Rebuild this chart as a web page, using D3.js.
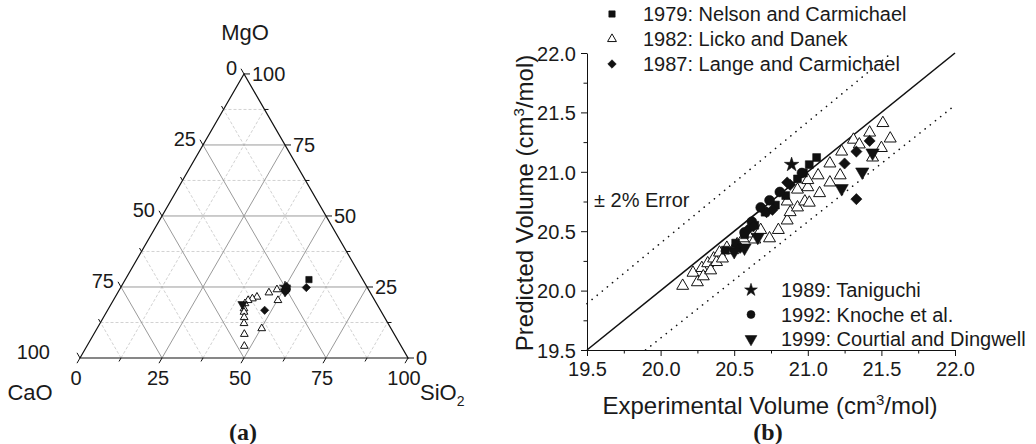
<!DOCTYPE html>
<html><head><meta charset="utf-8">
<script src="https://cdn.jsdelivr.net/npm/d3@7"></script>
<style>
body{margin:0;background:#fff}
svg{display:block}
text{font-family:"Liberation Sans",Arial,sans-serif;fill:#1a1a1a}
</style>
</head><body>
<svg id="c" width="1036" height="444"></svg>
<script>
// ---------------- DATA ----------------
// Ternary (a): compositions [CaO, MgO, SiO2] in mol %
const ternMajor = [0, 25, 50, 75, 100];
const ternMinor = [12.5, 37.5, 62.5, 87.5];
const ternNelson = [[16.4, 27.6, 56.0]];
const ternLicko = [
  [30.9, 23.0, 46.1], [27.9, 24.1, 48.0], [29.5, 20.3, 50.2], [39.4, 10.4, 50.2],
  [35.3, 21.5, 43.2], [37.0, 20.9, 42.1], [38.6, 20.3, 41.1], [40.1, 19.2, 40.7],
  [41.3, 17.4, 41.3], [41.9, 16.2, 41.9], [42.8, 14.3, 42.9], [43.9, 12.2, 43.9],
  [45.7, 8.4, 45.9], [47.8, 4.2, 48.0]
];
const ternLange = [[18.6, 24.8, 56.6], [25.2, 24.1, 50.7], [35.3, 16.8, 47.9], [24.4, 25.2, 50.4], [25.6, 23.4, 51.0]];
const ternTaniguchi = [[25.0, 25.0, 50.0]];
const ternKnoche = [[25.0, 24.5, 50.5], [25.5, 23.8, 50.7], [24.8, 24.3, 50.9]];
const ternCourtial = [[41.0, 18.9, 40.1], [25.8, 23.4, 50.8]];

// Scatter (b): [experimental, predicted] volume (cm3/mol)
const xTicks = [19.5, 20.0, 20.5, 21.0, 21.5, 22.0];
const yTicks = [19.5, 20.0, 20.5, 21.0, 21.5, 22.0];
const minorTicks = [19.75, 20.25, 20.75, 21.25, 21.75];
const errorPct = [-2, 2];
const nelson = [
  [21.06, 21.12], [21.01, 21.06], [20.97, 20.99], [20.93, 20.94], [20.85, 20.80],
  [20.78, 20.72], [20.71, 20.66], [20.64, 20.55], [20.57, 20.47], [20.51, 20.40], [20.44, 20.34]
];
const licko = [
  [20.15, 20.04], [20.22, 20.15], [20.25, 20.07], [20.28, 20.19], [20.29, 20.12],
  [20.32, 20.23], [20.34, 20.17], [20.36, 20.27], [20.38, 20.24], [20.40, 20.32],
  [20.42, 20.27], [20.45, 20.36], [20.49, 20.34], [20.52, 20.39], [20.56, 20.44],
  [20.59, 20.48], [20.64, 20.43], [20.68, 20.51], [20.74, 20.44], [20.80, 20.51],
  [20.86, 20.59], [20.88, 20.66], [20.93, 20.70], [20.98, 20.75], [21.01, 20.74],
  [20.86, 20.75], [20.93, 20.85], [21.00, 20.87], [21.00, 20.93], [21.08, 20.82],
  [21.07, 20.97], [21.15, 20.91], [21.15, 21.07], [21.22, 20.97], [21.23, 21.17],
  [21.31, 21.27], [21.35, 21.23], [21.42, 21.33], [21.51, 21.41], [21.56, 21.28],
  [21.50, 21.20], [21.44, 21.12]
];
const lange = [
  [21.42, 21.26], [21.33, 21.17], [21.25, 21.07], [21.33, 20.77], [20.88, 20.89],
  [20.86, 20.91], [20.72, 20.66], [20.76, 20.68], [20.59, 20.51], [20.63, 20.54], [20.54, 20.36]
];
const taniguchi = [[20.89, 21.06]];
const knoche = [[20.96, 20.99], [20.81, 20.83], [20.68, 20.70], [20.74, 20.76], [20.57, 20.49], [20.62, 20.58]];
const courtial = [[21.44, 21.16], [21.37, 21.00], [21.23, 20.86], [20.66, 20.45], [20.57, 20.36], [20.50, 20.33]];

const legendTop = ["1979: Nelson and Carmichael", "1982: Licko and Danek", "1987: Lange and Carmichael"];
const legendBottom = ["1989: Taniguchi", "1992: Knoche et al.", "1999: Courtial and Dingwell"];

// ---------------- DRAW ----------------
const svg = d3.select("#c");

const sym = (type, size) => d3.symbol().type(type).size(size)();
const markers = {
  square: s => ({ d: sym(d3.symbolSquare, s), rot: 0, fill: "#111" }),
  triangle: s => ({ d: sym(d3.symbolTriangle, s), rot: 0, fill: "#fff" }),
  diamond: s => ({ d: sym(d3.symbolSquare, s), rot: 45, fill: "#111" }),
  star: s => ({ d: sym(d3.symbolStar, s), rot: 0, fill: "#111" }),
  circle: s => ({ d: sym(d3.symbolCircle, s), rot: 0, fill: "#111" }),
  down: s => ({ d: sym(d3.symbolTriangle, s), rot: 180, fill: "#111" })
};
function drawMarks(g, pts, kind, size, px, py) {
  const m = markers[kind](size);
  g.selectAll(null).data(pts).enter().append("path")
    .attr("d", m.d)
    .attr("transform", d => `translate(${px(d)},${py(d)}) rotate(${m.rot})`)
    .attr("fill", m.fill)
    .attr("stroke", "#111")
    .attr("stroke-width", kind === "triangle" ? 1 : 0.6);
}

// ===== Ternary (a) =====
const T0 = { x: 80, y: 358 };     // CaO vertex (bottom-left)
const side = 328;
const tS = d3.scaleLinear().domain([0, 100]).range([0, side]);
const tH = d3.scaleLinear().domain([0, 100]).range([0, side * Math.sqrt(3) / 2]);
const tp = (c, m, s) => [T0.x + tS(s) + tS(m) / 2, T0.y - tH(m)];

const ga = svg.append("g");
function gridLines(vals, cls) {
  vals.forEach(v => {
    if (v === 0 || v === 100) return;
    const segs = [
      [tp(100 - v, 0, v), tp(0, 100 - v, v)],   // const SiO2
      [tp(v, 0, 100 - v), tp(v, 100 - v, 0)],   // const CaO
      [tp(100 - v, v, 0), tp(0, v, 100 - v)]    // const MgO
    ];
    segs.forEach(sg => {
      ga.append("line").attr("x1", sg[0][0]).attr("y1", sg[0][1]).attr("x2", sg[1][0]).attr("y2", sg[1][1])
        .attr("stroke", cls === "major" ? "#9a9a9a" : "#d2d2d2")
        .attr("stroke-width", 1)
        .attr("stroke-dasharray", cls === "major" ? null : "3,2");
    });
  });
}
gridLines(ternMinor, "minor");
gridLines(ternMajor, "major");

const tri = [tp(100, 0, 0), tp(0, 100, 0), tp(0, 0, 100)];
ga.append("path").attr("d", "M" + tri.map(p => p.join(",")).join("L") + "Z")
  .attr("fill", "none").attr("stroke", "#111").attr("stroke-width", 1.2);

const c30 = Math.cos(Math.PI / 3), s60 = Math.sin(Math.PI / 3);
function tick(p, dir, len) {
  ga.append("line").attr("x1", p[0]).attr("y1", p[1])
    .attr("x2", p[0] + dir[0] * len).attr("y2", p[1] + dir[1] * len)
    .attr("stroke", "#111").attr("stroke-width", 1);
}
const dirCaO = [-c30, -s60], dirMgO = [1, 0], dirSiO2 = [-c30, s60];
ternMinor.forEach(v => {
  tick(tp(v, 100 - v, 0), dirCaO, 4);
  tick(tp(0, v, 100 - v), dirMgO, 4);
  tick(tp(100 - v, 0, v), dirSiO2, 4);
});
ternMajor.forEach(v => {
  const pc = tp(v, 100 - v, 0), pm = tp(0, v, 100 - v), ps = tp(100 - v, 0, v);
  tick(pc, dirCaO, 6); tick(pm, dirMgO, 6); tick(ps, dirSiO2, 6);
  ga.append("text").attr("x", pc[0] - (v === 100 ? 30 : 7)).attr("y", pc[1] + 1).attr("text-anchor", "end")
    .attr("font-size", 20).text(v);
  ga.append("text").attr("x", pm[0] + 8).attr("y", pm[1] + 7).attr("text-anchor", "start")
    .attr("font-size", 20).text(v);
  ga.append("text").attr("x", ps[0] - 4).attr("y", ps[1] + 27).attr("text-anchor", "middle")
    .attr("font-size", 20).text(v);
});
ga.append("text").attr("x", 245).attr("y", 40).attr("text-anchor", "middle").attr("font-size", 22).text("MgO");
ga.append("text").attr("x", 30).attr("y", 400).attr("text-anchor", "middle").attr("font-size", 22).text("CaO");
const siT = ga.append("text").attr("x", 420).attr("y", 400).attr("font-size", 22);
siT.append("tspan").text("SiO");
siT.append("tspan").attr("dy", 6).attr("font-size", 14).text("2");
svg.append("text").attr("x", 243).attr("y", 440).attr("text-anchor", "middle")
  .style("font-family", "'Liberation Serif','Times New Roman',serif").attr("font-weight", "bold")
  .attr("font-size", 24).text("(a)");

const tpx = d => tp(d[0], d[1], d[2])[0], tpy = d => tp(d[0], d[1], d[2])[1];
drawMarks(ga, ternLicko, "triangle", 26, tpx, tpy);
drawMarks(ga, ternNelson, "square", 40, tpx, tpy);
drawMarks(ga, ternKnoche, "circle", 44, tpx, tpy);
drawMarks(ga, ternTaniguchi, "star", 40, tpx, tpy);
drawMarks(ga, ternLange, "diamond", 34, tpx, tpy);
drawMarks(ga, ternCourtial, "down", 38, tpx, tpy);

// ===== Scatter (b) =====
const xS = d3.scaleLinear().domain([19.5, 22]).range([587, 955]);
const yS = d3.scaleLinear().domain([19.5, 22]).range([350, 53]);
const gb = svg.append("g");

const fmt = d3.format(".1f");
const xAx = gb.append("g").attr("transform", "translate(0,350)")
  .call(d3.axisBottom(xS).tickValues(xTicks).tickFormat(fmt).tickSize(6).tickSizeOuter(0).tickPadding(6));
const xAxm = gb.append("g").attr("transform", "translate(0,350)")
  .call(d3.axisBottom(xS).tickValues(minorTicks).tickFormat("").tickSize(3.5));
xAxm.select(".domain").remove();
const yAx = gb.append("g").attr("transform", "translate(587,0)")
  .call(d3.axisLeft(yS).tickValues(yTicks).tickFormat(fmt).tickSize(6).tickSizeOuter(0).tickPadding(5));
const yAxm = gb.append("g").attr("transform", "translate(587,0)")
  .call(d3.axisLeft(yS).tickValues(minorTicks).tickFormat("").tickSize(3.5));
yAxm.select(".domain").remove();
gb.selectAll(".tick text").attr("font-size", 20).attr("font-family", null).attr("fill", "#1a1a1a");
gb.selectAll(".domain,.tick line").attr("stroke", "#111");
yAx.selectAll(".tick text").attr("dy", "0.36em");

const [xmin, xmax] = xS.domain();
const line = d3.line().x(d => xS(d[0])).y(d => yS(d[1]));
gb.append("path").attr("d", line([[xmin, xmin], [xmax, xmax]]))
  .attr("stroke", "#111").attr("stroke-width", 1.6).attr("fill", "none");
errorPct.forEach(p => {
  const f = 1 + p / 100;
  const x0 = Math.max(xmin, xmin / f), x1 = Math.min(xmax, xmax / f);
  gb.append("path").attr("d", line([[x0, x0 * f], [x1, x1 * f]]))
    .attr("stroke", "#111").attr("stroke-width", 1.6).attr("fill", "none")
    .attr("stroke-dasharray", "0.1,6.5").attr("stroke-linecap", "round");
});
gb.append("text").attr("x", 594).attr("y", 207).attr("font-size", 20).text("\u00b1 2% Error");

const sx = d => xS(d[0]), sy = d => yS(d[1]);
drawMarks(gb, licko, "triangle", 62, sx, sy);
drawMarks(gb, nelson, "square", 62, sx, sy);
drawMarks(gb, knoche, "circle", 76, sx, sy);
drawMarks(gb, lange, "diamond", 62, sx, sy);
drawMarks(gb, courtial, "down", 76, sx, sy);
drawMarks(gb, taniguchi, "star", 64, sx, sy);

const xt = gb.append("text").attr("x", 770).attr("y", 414).attr("text-anchor", "middle").attr("font-size", 24);
xt.append("tspan").text("Experimental Volume (cm");
xt.append("tspan").attr("dy", -9).attr("font-size", 15).text("3");
xt.append("tspan").attr("dy", 9).text("/mol)");
const yt = gb.append("text").attr("transform", "translate(533,203) rotate(-90)").attr("text-anchor", "middle").attr("font-size", 24);
yt.append("tspan").text("Predicted Volume (cm");
yt.append("tspan").attr("dy", -9).attr("font-size", 15).text("3");
yt.append("tspan").attr("dy", 9).text("/mol)");
svg.append("text").attr("x", 768).attr("y", 440).attr("text-anchor", "middle")
  .style("font-family", "'Liberation Serif','Times New Roman',serif").attr("font-weight", "bold")
  .attr("font-size", 24).text("(b)");

const lgTopKinds = [["square", 40], ["triangle", 34], ["diamond", 36]];
legendTop.forEach((t, i) => {
  const y = 14 + i * 25;
  drawMarks(gb, [[0, 0]], lgTopKinds[i][0], lgTopKinds[i][1], () => 612, () => y);
  gb.append("text").attr("x", 643).attr("y", y + 7).attr("font-size", 20).text(t);
});
const lgBotKinds = [["star", 50], ["circle", 50], ["down", 60]];
legendBottom.forEach((t, i) => {
  const y = 290 + i * 24.5;
  drawMarks(gb, [[0, 0]], lgBotKinds[i][0], lgBotKinds[i][1], () => 751, () => y);
  gb.append("text").attr("x", 781).attr("y", y + 7).attr("font-size", 20).text(t);
});
</script>
</body></html>
